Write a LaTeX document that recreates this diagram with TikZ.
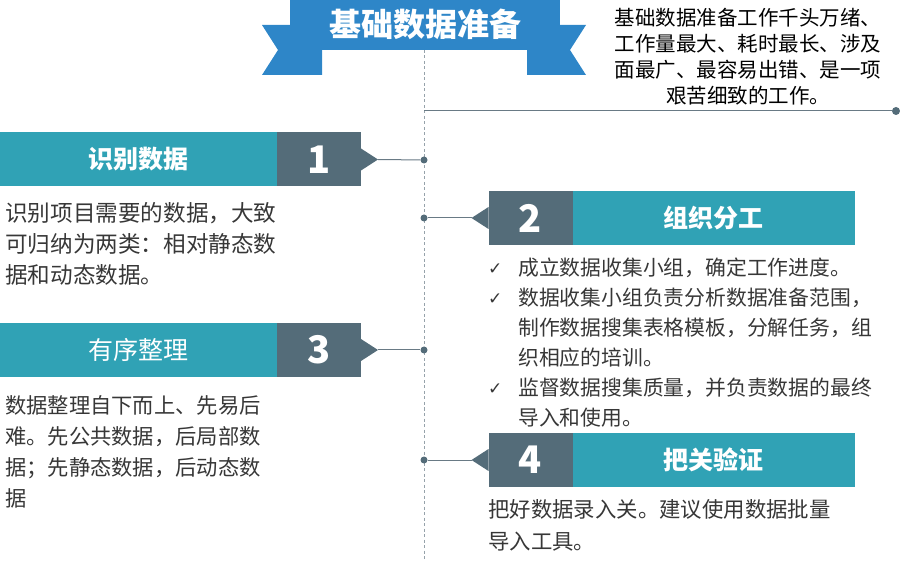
\documentclass[tikz,border=0pt]{standalone}
\usepackage{fontspec}
\setmainfont{Noto Sans CJK SC}
\newfontfamily\symfont{DejaVu Sans}
\usetikzlibrary{positioning,calc}
\definecolor{bannerblue}{RGB}{46,134,200}
\definecolor{barteal}{RGB}{48,162,181}
\definecolor{numslate}{RGB}{84,108,121}
\definecolor{linkgray}{RGB}{105,122,133}
\definecolor{bodygray}{RGB}{55,55,55}
\newcommand{\tick}{\makebox[30pt][l]{\symfont\fontsize{17}{17}\selectfont\raisebox{1pt}{✓}}}

\begin{document}
\begin{tikzpicture}[x=1pt,y=-1pt,
   bar/.style={fill=barteal,text=white,minimum height=54pt,inner sep=0pt,outer sep=0pt,
     font=\bfseries\fontsize{25}{25}\selectfont},
   numbox/.style={fill=numslate,text=white,minimum width=84pt,minimum height=54pt,
     inner sep=0pt,outer sep=0pt,font=\bfseries\fontsize{38}{38}\selectfont},
   jdot/.style={circle,fill=numslate,minimum size=7pt,inner sep=0pt},
   link/.style={draw=linkgray,line width=1pt},
   body/.style={anchor=north west,inner sep=0pt,align=left,text=bodygray}]
  \useasboundingbox (0,0) rectangle (900,561);
  % timeline
  \draw[linkgray!70,line width=0.9pt,dash pattern=on 3pt off 2.5pt] (424,50) -- (424,561);
  % banner
  \fill[bannerblue] (322,25) -- (262,25) -- (278,50) -- (262,75) -- (322,75) -- cycle;
  \fill[bannerblue] (527,25) -- (586,25) -- (570,50) -- (586,75) -- (527,75) -- cycle;
  \fill[bannerblue] (290,0) rectangle (560,50);
  \node[text=white,font=\bfseries\fontsize{32}{32}\selectfont] (title) at (425,24) {基础数据准备};
  \node[anchor=north,align=center,inner sep=0pt,font=\fontsize{20.5}{26}\selectfont] (intro) at (748,8)
    {基础数据准备工作千头万绪、\\工作量最大、耗时最长、涉及\\面最广、最容易出错、是一项\\艰苦细致的工作。};
  \coordinate (c0) at (424,111);
  \node[jdot,minimum size=8pt] (d0) at (896,111) {};
  \draw[link] (c0) -- (d0);

  % 1
  \node[bar,minimum width=277pt] (t1) at (138.5,159.5) {识别数据};
  \node[numbox,right=0pt of t1] (n1) {1};
  \coordinate[right=17pt of n1.east] (p1);
  \fill[numslate] ($(n1.east)+(0,-11)$) -- (p1) -- ($(n1.east)+(0,11)$) -- cycle;
  \node[jdot] (d1) at (424,160) {};
  \draw[link] (p1) -- (d1);
  \node[body,font=\fontsize{22.6}{31}\selectfont] (x1) at (5,202)
    {识别项目需要的数据，大致\\可归纳为两类：相对静态数\\据和动态数据。};

  % 2
  \node[numbox] (n2) at (530.5,218) {2};
  \node[bar,minimum width=282pt,right=0pt of n2] (t2) {组织分工};
  \coordinate[left=17pt of n2.west] (p2);
  \fill[numslate] ($(n2.west)+(0,-11)$) -- (p2) -- ($(n2.west)+(0,11)$) -- cycle;
  \node[jdot] (d2) at (424,218) {};
  \draw[link] (d2) -- (p2);
  \node[body,font=\fontsize{20.8}{30}\selectfont] (x2) at (488,258)
    {\tick 成立数据收集小组，确定工作进度。\\
     \tick 数据收集小组负责分析数据准备范围，\\
     \hspace*{30pt}制作数据搜集表格模板，分解任务，组\\
     \hspace*{30pt}织相应的培训。\\
     \tick 监督数据搜集质量，并负责数据的最终\\
     \hspace*{30pt}导入和使用。};

  % 3
  \node[bar,minimum width=277pt,font=\fontsize{25}{25}\selectfont] (t3) at (138.5,350) {有序整理};
  \node[numbox,right=0pt of t3] (n3) {3};
  \coordinate[right=17pt of n3.east] (p3);
  \fill[numslate] ($(n3.east)+(0,-11)$) -- (p3) -- ($(n3.east)+(0,11)$) -- cycle;
  \node[jdot] (d3) at (424,350) {};
  \draw[link] (p3) -- (d3);
  \node[body,font=\fontsize{21.3}{31}\selectfont] (x3) at (5,395)
    {数据整理自下而上、先易后\\难。先公共数据，后局部数\\据；先静态数据，后动态数\\据};

  % 4
  \node[numbox] (n4) at (530.5,460) {4};
  \node[bar,minimum width=282pt,right=0pt of n4] (t4) {把关验证};
  \coordinate[left=17pt of n4.west] (p4);
  \fill[numslate] ($(n4.west)+(0,-11)$) -- (p4) -- ($(n4.west)+(0,11)$) -- cycle;
  \node[jdot] (d4) at (424,460) {};
  \draw[link] (d4) -- (p4);
  \node[body,font=\fontsize{21.4}{32}\selectfont] (x4) at (488,499)
    {把好数据录入关。建议使用数据批量\\导入工具。};
\end{tikzpicture}
\end{document}
